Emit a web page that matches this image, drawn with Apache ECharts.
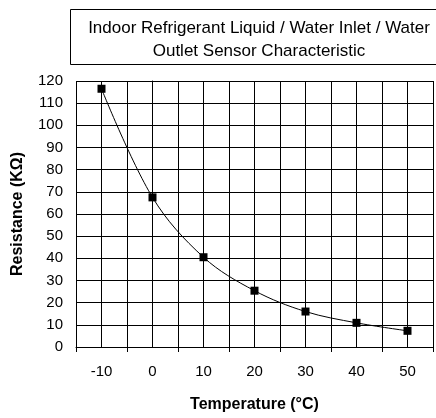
<!DOCTYPE html>
<html>
<head>
<meta charset="utf-8">
<script src="https://cdn.jsdelivr.net/npm/echarts@6/dist/echarts.min.js"></script>
<style>
  html, body { margin: 0; padding: 0; background: #fff; }
  #chart { width: 436px; height: 418px; }
</style>
</head>
<body>
<div id="chart"></div>
<script>
// sensor characteristic
const temperatures = [-10, 0, 10, 20, 30, 40, 50];
const resistance = [116.5, 67.5, 40.5, 25.4, 16.0, 10.9, 7.3];
const xTickValues = [-15, -5, 5, 15, 25, 35, 45, 55];

const titleLines = ["Indoor Refrigerant Liquid / Water Inlet / Water", "Outlet Sensor Characteristic"];

const FONT = "Liberation Sans, Arial, sans-serif";
const myChart = echarts.init(document.getElementById("chart"));

myChart.setOption({
  animation: false,
  backgroundColor: "#fff",
  textStyle: { fontFamily: FONT },
  graphic: [
    {
      type: "rect",
      shape: { x: 70.5, y: 9.5, width: 400, height: 55 },
      style: { fill: "#fff", stroke: "#000", lineWidth: 1 },
      z: 0
    }
  ],
  title: {
    text: titleLines.join("\n"),
    left: 254,
    top: 12,
    textAlign: "center",
    textStyle: {
      fontSize: 17,
      fontWeight: "normal",
      color: "#000",
      lineHeight: 23,
      fontFamily: FONT
    }
  },
  grid: { left: 76, right: -2, top: 81, bottom: 62 },
  xAxis: [
    {
      type: "value",
      min: -15,
      max: 55,
      interval: 5,
      name: "Temperature (°C)",
      nameLocation: "middle",
      nameGap: 50,
      nameTextStyle: { fontSize: 16, fontWeight: "bold", color: "#000" },
      axisLine: { lineStyle: { color: "#000", width: 1 } },
      axisTick: { show: false },
      axisLabel: {
        color: "#000",
        fontSize: 15,
        margin: 17,
        formatter: (v) => (v % 10 === 0 ? String(v) : "")
      },
      splitLine: { show: true, lineStyle: { color: "#000", width: 1 } }
    },
    {
      // only carries the tick marks that sit between the labels
      type: "value",
      position: "bottom",
      min: -15,
      max: 55,
      axisLine: { show: false },
      axisTick: { show: true, length: 5, lineStyle: { color: "#000" }, customValues: xTickValues },
      axisLabel: { show: false },
      splitLine: { show: false }
    }
  ],
  yAxis: {
    type: "value",
    min: 0,
    max: 120,
    interval: 10,
    name: "Resistance (KΩ)",
    nameLocation: "middle",
    nameGap: 50,
    nameRotate: 90,
    nameTextStyle: { fontSize: 16, fontWeight: "bold", color: "#000" },
    axisLine: { show: true, lineStyle: { color: "#000", width: 1 } },
    axisTick: { show: true, length: 4, lineStyle: { color: "#000" } },
    axisLabel: { color: "#000", fontSize: 15, margin: 13 },
    splitLine: { show: true, lineStyle: { color: "#000", width: 1 } }
  },
  series: [
    {
      type: "line",
      data: temperatures.map((t, i) => [t, resistance[i]]),
      smooth: 0.35,
      symbol: "rect",
      symbolSize: 8,
      itemStyle: { color: "#000" },
      lineStyle: { color: "#000", width: 1 },
      z: 5
    }
  ]
});
</script>
</body>
</html>
